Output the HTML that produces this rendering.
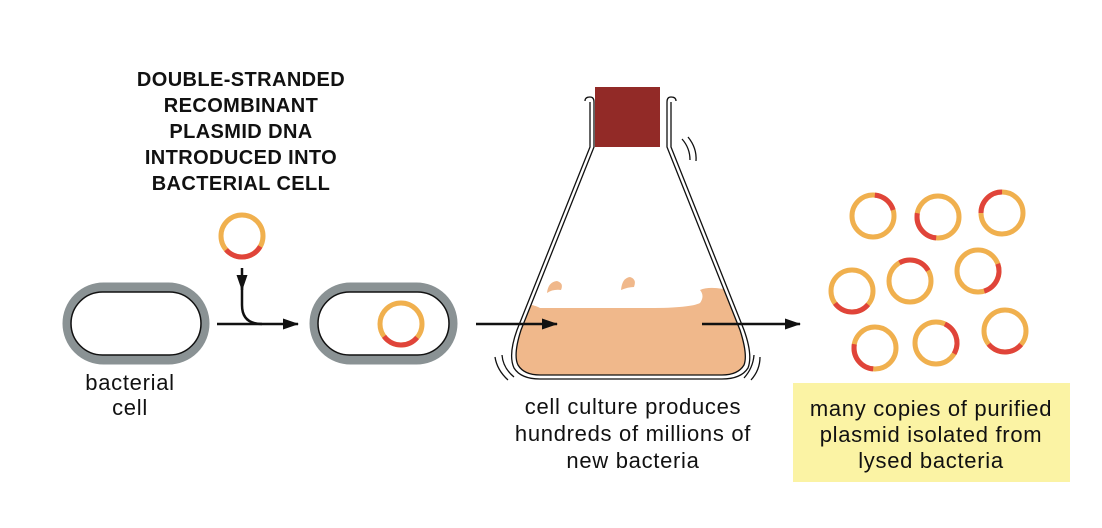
<!DOCTYPE html>
<html><head><style>
body{margin:0;background:#fff;}
svg{display:block;font-family:"Liberation Sans",sans-serif;}
</style></head><body>
<svg width="1102" height="528" viewBox="0 0 1102 528">
<defs>
<marker id="ah" markerWidth="16" markerHeight="14" refX="15" refY="7" orient="auto" markerUnits="userSpaceOnUse"><path d="M0,1.5 L16,7 L0,12.5 Z" fill="#111"/></marker>
<clipPath id="fc"><path d="M594 147 L521 330 Q513 355 518 365 Q524 375 540 375 H722 Q738 375 744 365 Q748 355 740 330 L667 147 Z"/></clipPath>
</defs>
<g font-weight="bold" font-size="20" letter-spacing="0.4" fill="#111" text-anchor="middle">
<text x="241" y="86">DOUBLE-STRANDED</text>
<text x="241" y="112">RECOMBINANT</text>
<text x="241" y="138">PLASMID DNA</text>
<text x="241" y="164">INTRODUCED INTO</text>
<text x="241" y="190">BACTERIAL CELL</text>
</g>
<rect x="67" y="287" width="138" height="73" rx="36.5" fill="#fff" stroke="#8a9294" stroke-width="9"/>
<rect x="71" y="292" width="130" height="63" rx="31.5" fill="none" stroke="#111" stroke-width="1.5"/>
<rect x="314" y="287" width="139" height="73" rx="36.5" fill="#fff" stroke="#8a9294" stroke-width="9"/>
<rect x="318" y="292" width="131" height="63" rx="31.5" fill="none" stroke="#111" stroke-width="1.5"/>
<g fill="none" stroke-width="5">
<circle cx="242" cy="236" r="21" stroke="#f0b04e"/>
<circle cx="242" cy="236" r="21" stroke="#e0443a" stroke-dasharray="40 200" transform="rotate(30 242 236)"/>
<circle cx="401" cy="324" r="21" stroke="#f0b04e"/>
<circle cx="401" cy="324" r="21" stroke="#e0443a" stroke-dasharray="38 200" transform="rotate(40 401 324)"/>
<circle cx="873" cy="216" r="21" stroke="#f0b04e"/>
<circle cx="873" cy="216" r="21" stroke="#e0443a" stroke-dasharray="25 200" transform="rotate(-85 873 216)"/>
<circle cx="938" cy="217" r="21" stroke="#f0b04e"/>
<circle cx="938" cy="217" r="21" stroke="#e0443a" stroke-dasharray="35 200" transform="rotate(95 938 217)"/>
<circle cx="1002" cy="213" r="21" stroke="#f0b04e"/>
<circle cx="1002" cy="213" r="21" stroke="#e0443a" stroke-dasharray="33 200" transform="rotate(180 1002 213)"/>
<circle cx="852" cy="291" r="21" stroke="#f0b04e"/>
<circle cx="852" cy="291" r="21" stroke="#e0443a" stroke-dasharray="38 200" transform="rotate(40 852 291)"/>
<circle cx="910" cy="281" r="21" stroke="#f0b04e"/>
<circle cx="910" cy="281" r="21" stroke="#e0443a" stroke-dasharray="33 200" transform="rotate(240 910 281)"/>
<circle cx="978" cy="271" r="21" stroke="#f0b04e"/>
<circle cx="978" cy="271" r="21" stroke="#e0443a" stroke-dasharray="34 200" transform="rotate(-20 978 271)"/>
<circle cx="875" cy="348" r="21" stroke="#f0b04e"/>
<circle cx="875" cy="348" r="21" stroke="#e0443a" stroke-dasharray="35 200" transform="rotate(95 875 348)"/>
<circle cx="936" cy="343" r="21" stroke="#f0b04e"/>
<circle cx="936" cy="343" r="21" stroke="#e0443a" stroke-dasharray="35 200" transform="rotate(-65 936 343)"/>
<circle cx="1005" cy="331" r="21" stroke="#f0b04e"/>
<circle cx="1005" cy="331" r="21" stroke="#e0443a" stroke-dasharray="37 200" transform="rotate(40 1005 331)"/>
</g>
<g clip-path="url(#fc)" fill="#f0b88b">
<path d="M500 304 Q530 302 540 308 L650 308 Q690 308 700 303 Q705 296 700 290 Q712 285 735 292 L760 300 L760 390 L500 390 Z"/>
<path d="M547 293 Q548 282 557 281 Q564 283 561 290 Q553 289 547 293 Z"/>
<path d="M621 290 Q622 278 630 277 Q637 279 634 287 Q628 287 621 290 Z"/>
</g>
<g stroke="#111" stroke-width="2.5" fill="none">
<path d="M242 268 V290" marker-end="url(#ah)"/>
<path d="M242 285 V305 Q242 324 262 324" />
<path d="M217 324 H298" marker-end="url(#ah)"/>
<path d="M476 324 H557" marker-end="url(#ah)"/>
<path d="M702 324 H800" marker-end="url(#ah)"/>
</g>
<g fill="none" stroke="#111" stroke-width="1.3">
<path d="M585 101 Q585 97 590 97 Q594 97 594 102 V147 L521 330 Q513 355 518 365 Q524 375 540 375 H722 Q738 375 744 365 Q748 355 740 330 L667 147 V102 Q667 97 671 97 Q676 97 676 101"/>
<path d="M590 102 V147 L517 330 Q508 355 514 368 Q521 379 540 379 H722 Q741 379 748 368 Q753 355 744 330 L671 147 V102"/>
</g>
<rect x="595" y="87" width="65" height="60" fill="#922a27"/>
<g fill="none" stroke="#111" stroke-width="1.3">
<path d="M682 139 Q690 148 690 160"/><path d="M688 137 Q697 148 696 161"/>
<path d="M495 357 Q497 370 508 380"/><path d="M502 355 Q503 368 514 377"/>
<path d="M751 380 Q760 370 760 357"/><path d="M744 378 Q753 368 754 355"/>
</g>
<g font-size="22" letter-spacing="0.7" fill="#111" text-anchor="middle">
<text x="130" y="390">bacterial</text>
<text x="130" y="415">cell</text>
<text x="633" y="414">cell culture produces</text>
<text x="633" y="441">hundreds of millions of</text>
<text x="633" y="468">new bacteria</text>
</g>
<rect x="793" y="383" width="277" height="99" fill="#fbf3a4"/>
<g font-size="22" letter-spacing="0.7" fill="#111" text-anchor="middle">
<text x="931" y="416">many copies of purified</text>
<text x="931" y="442">plasmid isolated from</text>
<text x="931" y="468">lysed bacteria</text>
</g>
</svg>
</body></html>
